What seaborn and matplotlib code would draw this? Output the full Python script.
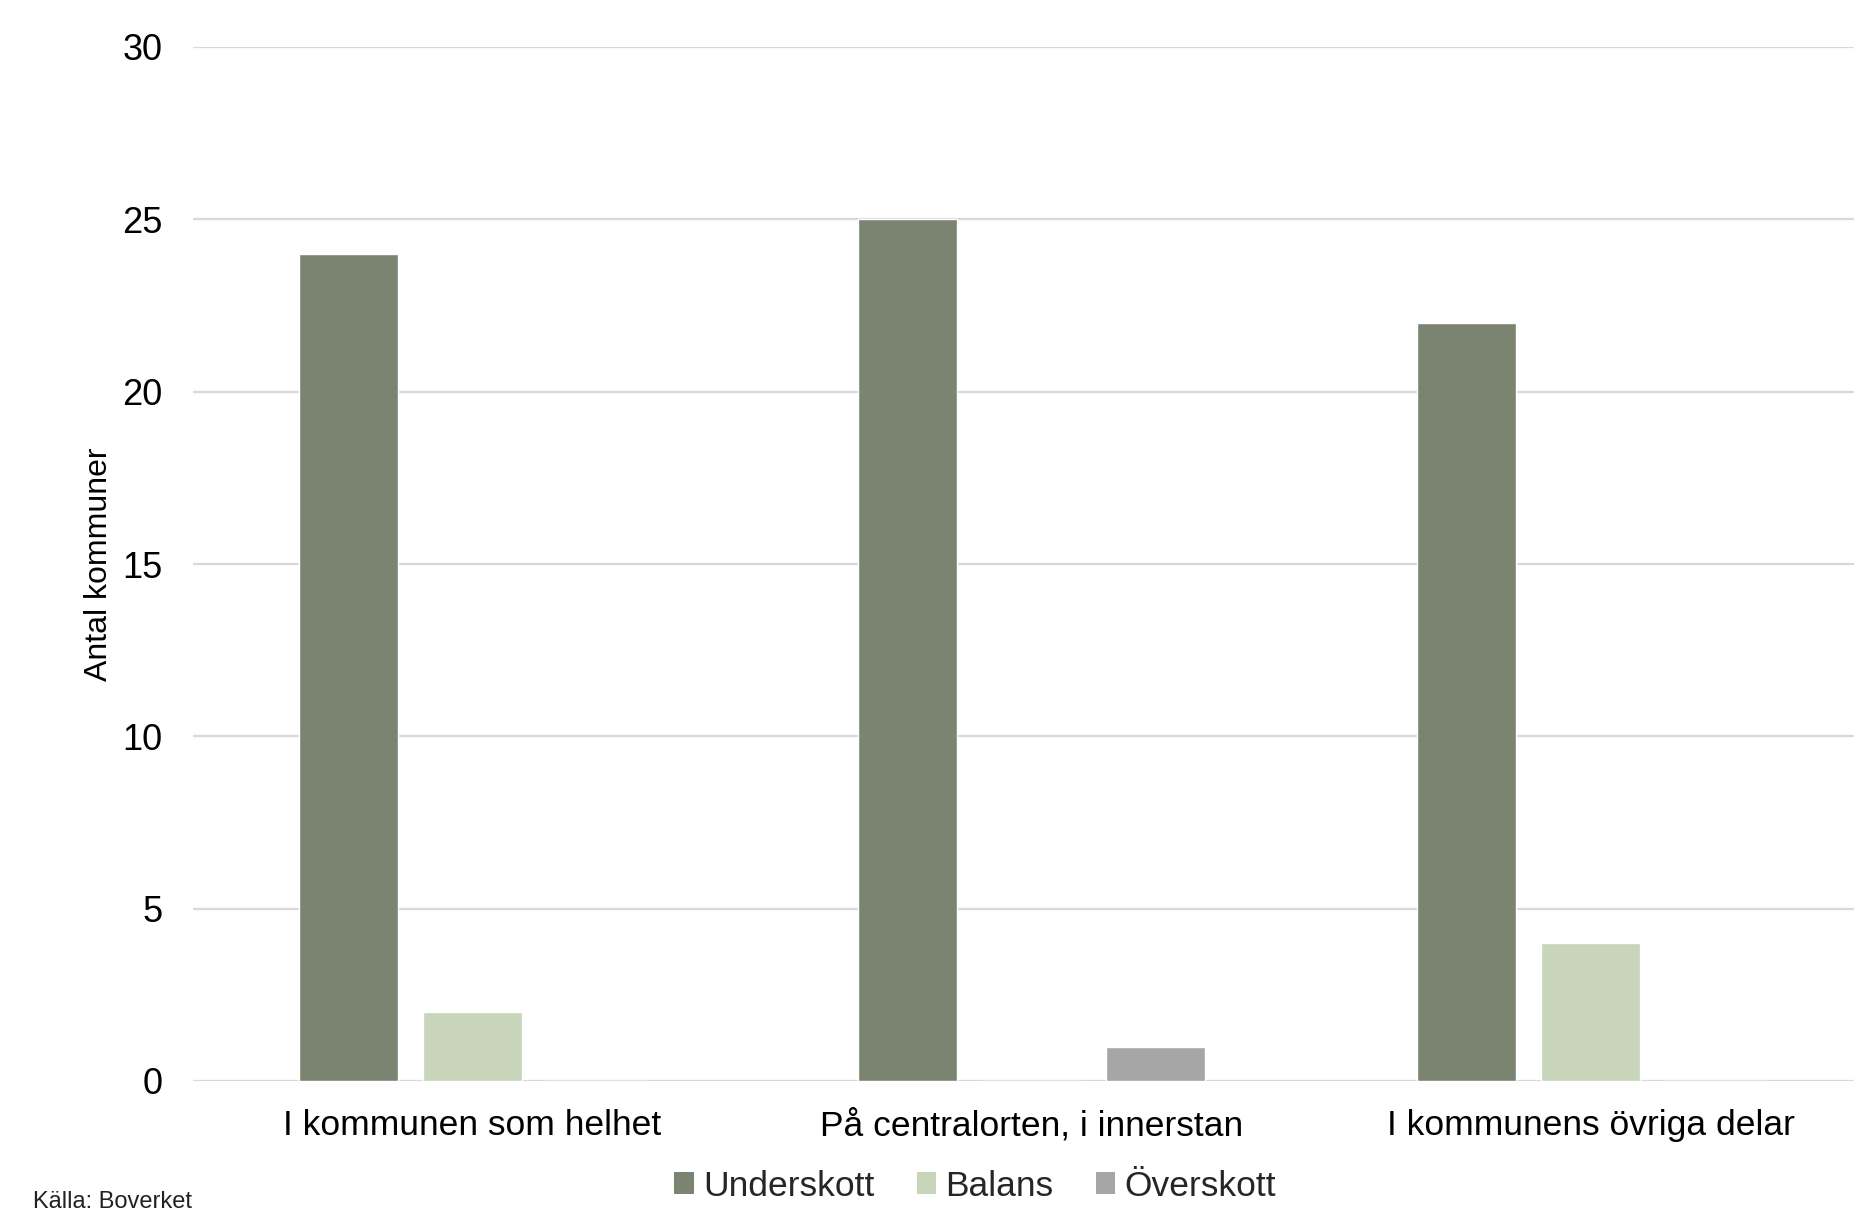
import matplotlib
matplotlib.use("Agg")
import matplotlib.pyplot as plt
import seaborn as sns
import pandas as pd
from matplotlib.patches import Patch

categories = ["I kommunen som helhet", "På centralorten, i innerstan", "I kommunens övriga delar"]
series = ["Underskott", "Balans", "Överskott"]
underskott = [24, 25, 22]
balans = [2, 0, 4]
overskott = [0, 1, 0]
yticks = [0, 5, 10, 15, 20, 25, 30]
colors = ["#7a8470", "#c8d5bb", "#a6a6a6"]

rows = []
for vals, name in zip([underskott, balans, overskott], series):
    for cat, v in zip(categories, vals):
        rows.append({"kategori": cat, "serie": name, "antal": v})
df = pd.DataFrame(rows)

sns.set_theme(style="white")
plt.rcParams["font.family"] = ["Liberation Sans", "DejaVu Sans"]

W, H = 1854, 1215
fig = plt.figure(figsize=(W / 100, H / 100), dpi=100)
ax = fig.add_axes([193 / W, 1 - 1081 / H, 1677 / W, (1081 - 47) / H])

sns.barplot(data=df, x="kategori", y="antal", hue="serie", order=categories,
            hue_order=series, palette=colors, width=0.667, gap=0.2,
            saturation=1, errorbar=None, legend=False, ax=ax, zorder=3)

ax.set_xlim(-0.5, 2.5)
ax.set_ylim(0, 30)
ax.set_yticks(yticks)
ax.set_yticklabels([str(t) for t in yticks])
ax.yaxis.grid(True, color="#d9d9d9", linewidth=1.6, zorder=0)
ax.set_axisbelow(True)
for s in ax.spines.values():
    s.set_visible(False)
ax.tick_params(axis="y", length=0, pad=22, labelsize=26, colors="#000000")
ax.tick_params(axis="x", length=0, pad=20, labelsize=25.5, colors="#000000")
ax.set_xlabel("")
ax.set_ylabel("Antal kommuner", fontsize=23, color="#000000")
ax.yaxis.set_label_coords((114 - 193) / 1677, 0.5)

handles = [Patch(facecolor=c, edgecolor="none", label=s) for c, s in zip(colors, series)]
fig.legend(handles=handles, loc="center", bbox_to_anchor=(975 / W, 1 - 1186 / H),
           ncol=3, frameon=False, fontsize=25.5, handlelength=0.55, handleheight=0.55,
           handletextpad=0.25, columnspacing=1.2, borderaxespad=0)

fig.text(33 / W, 1 - 1213 / H, "Källa: Boverket", fontsize=17, va="bottom", ha="left",
         color="#222222", family=["Liberation Sans Narrow", "Liberation Sans", "DejaVu Sans"])

fig.savefig("out.png", dpi=100, facecolor="white")
